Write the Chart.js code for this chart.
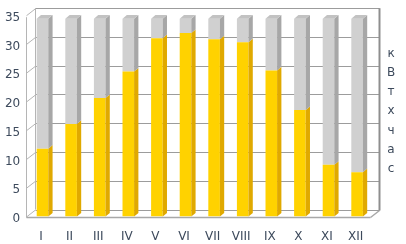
<!DOCTYPE html>
<html>
<head>
<meta charset="utf-8">
<script src="https://cdn.jsdelivr.net/npm/chart.js@4.4.1/dist/chart.umd.min.js"></script>
<style>
html,body{margin:0;padding:0;background:#fff;}
#wrap{width:406px;height:244px;position:relative;}
</style>
</head>
<body>
<div id="wrap"><canvas id="c" width="406" height="244"></canvas></div>
<script>
const months = ['I','II','III','IV','V','VI','VII','VIII','IX','X','XI','XII'];
const produced = [11.8, 16.1, 20.6, 25.2, 31.0, 31.9, 30.8, 30.3, 25.4, 18.5, 9.0, 7.7];
const remainder = [22.6, 18.3, 13.8, 9.2, 3.4, 2.5, 3.6, 4.1, 9.0, 15.9, 25.4, 26.7];
const yTicks = [0, 5, 10, 15, 20, 25, 30, 35];
const unitLetters = ['к','В','т','х','ч','а','с'];

const TEXT = '#3d4a5c';
const FONT = 'DejaVu Sans';
const BDX = 4.3, BDY = -3.6;   // bar depth
const WDX = 9, WDY = -7;       // wall depth

const colors = {
  yellow: '#FFD200', yellowSide: '#E0A900',
  gray: '#D0D0D0', graySide: '#A7A7A7', grayTop: '#C2C2C2'
};

function line(ctx, x1, y1, x2, y2) {
  ctx.beginPath(); ctx.moveTo(x1, y1); ctx.lineTo(x2, y2); ctx.stroke();
}

const wallPlugin = {
  id: 'wall3d',
  beforeDraw(chart) {
    const ctx = chart.ctx;
    ctx.save(); ctx.fillStyle = '#fff'; ctx.fillRect(0, 0, chart.width, chart.height); ctx.restore();
  },
  beforeDatasetsDraw(chart) {
    const ctx = chart.ctx, ys = chart.scales.y, a = chart.chartArea;
    const fl = Math.round(a.left - 2.2) + 0.5;
    const fr = Math.round(a.right - 1.4) + 0.5;
    const bl = fl + WDX, br = fr + WDX;
    const yTop = ys.getPixelForValue(35), yZero = ys.getPixelForValue(0);
    ctx.save();
    ctx.lineWidth = 1;
    // back wall gridlines
    ctx.strokeStyle = '#9c9c9c';
    yTicks.forEach(v => {
      const y = Math.round(ys.getPixelForValue(v) + WDY) + 0.5;
      line(ctx, bl, y, br, y);
    });
    // left wall diagonals
    ctx.strokeStyle = '#b5b5b5';
    yTicks.forEach(v => {
      const yf = ys.getPixelForValue(v) + 0.5;
      line(ctx, fl, yf, bl, yf + WDY);
    });
    // left wall verticals
    line(ctx, fl, yTop + 2, fl, yZero + 1);
    line(ctx, bl, yTop + WDY, bl, yZero + WDY);
    // floor front + right diagonal
    ctx.strokeStyle = '#a8a8a8';
    ctx.lineWidth = 1.5;
    line(ctx, fl, yZero + 1, fr, yZero + 1);
    line(ctx, fr, yZero + 1, br, yZero + 1 + WDY);
    // right back edge
    ctx.strokeStyle = '#8e8e8e';
    ctx.lineWidth = 2;
    line(ctx, br, yTop + WDY, br, yZero + 1 + WDY);
    ctx.restore();
  },
  afterDatasetsDraw(chart) {
    const ctx = chart.ctx;
    ctx.save();
    chart.data.datasets.forEach((ds, di) => {
      const meta = chart.getDatasetMeta(di);
      meta.data.forEach(bar => {
        const p = bar.getProps(['x', 'y', 'base', 'width'], true);
        const l = p.x - p.width / 2, r = p.x + p.width / 2;
        const top = Math.min(p.y, p.base), bot = Math.max(p.y, p.base);
        ctx.fillStyle = di === 0 ? colors.yellowSide : colors.graySide;
        ctx.beginPath();
        ctx.moveTo(r, top); ctx.lineTo(r + BDX, top + BDY);
        ctx.lineTo(r + BDX, bot + BDY); ctx.lineTo(r, bot); ctx.closePath(); ctx.fill();
        if (di === chart.data.datasets.length - 1) {
          ctx.fillStyle = colors.grayTop;
          ctx.beginPath();
          ctx.moveTo(l, top); ctx.lineTo(l + BDX, top + BDY);
          ctx.lineTo(r + BDX, top + BDY); ctx.lineTo(r, top); ctx.closePath(); ctx.fill();
        }
      });
    });
    ctx.restore();
  },
  afterDraw(chart) {
    const ctx = chart.ctx;
    ctx.save();
    ctx.fillStyle = TEXT;
    ctx.font = '12px "' + FONT + '"';
    ctx.textAlign = 'center';
    ctx.textBaseline = 'alphabetic';
    unitLetters.forEach((ch, i) => ctx.fillText(ch, 391, 56.8 + i * 19.2));
    ctx.restore();
  }
};

new Chart(document.getElementById('c'), {
  type: 'bar',
  data: {
    labels: months,
    datasets: [
      { data: produced, backgroundColor: colors.yellow, borderWidth: 0, barPercentage: 0.405, categoryPercentage: 1 },
      { data: remainder, backgroundColor: colors.gray, borderWidth: 0, barPercentage: 0.405, categoryPercentage: 1 }
    ]
  },
  options: {
    responsive: false,
    animation: false,
    layout: { padding: { top: 11.5, right: 34.6, left: 0, bottom: 0 } },
    plugins: { legend: { display: false }, tooltip: { enabled: false }, title: { display: false } },
    scales: {
      x: {
        stacked: true,
        grid: { display: false, drawTicks: false },
        border: { display: false },
        ticks: { color: TEXT, font: { family: FONT, size: 12 }, padding: 13, labelOffset: -1.5, maxRotation: 0, autoSkip: false },
        afterFit(s) { s.height = 27.5; }
      },
      y: {
        stacked: true,
        min: 0, max: 35,
        afterBuildTicks(s) { s.ticks = yTicks.map(v => ({ value: v })); },
        grid: { display: false, drawTicks: false },
        border: { display: false },
        ticks: { color: TEXT, font: { family: FONT, size: 12 }, padding: 8, labelOffset: 2.5 },
        afterFit(s) { s.width = 28.2; }
      }
    }
  },
  plugins: [wallPlugin]
});
</script>
</body>
</html>
